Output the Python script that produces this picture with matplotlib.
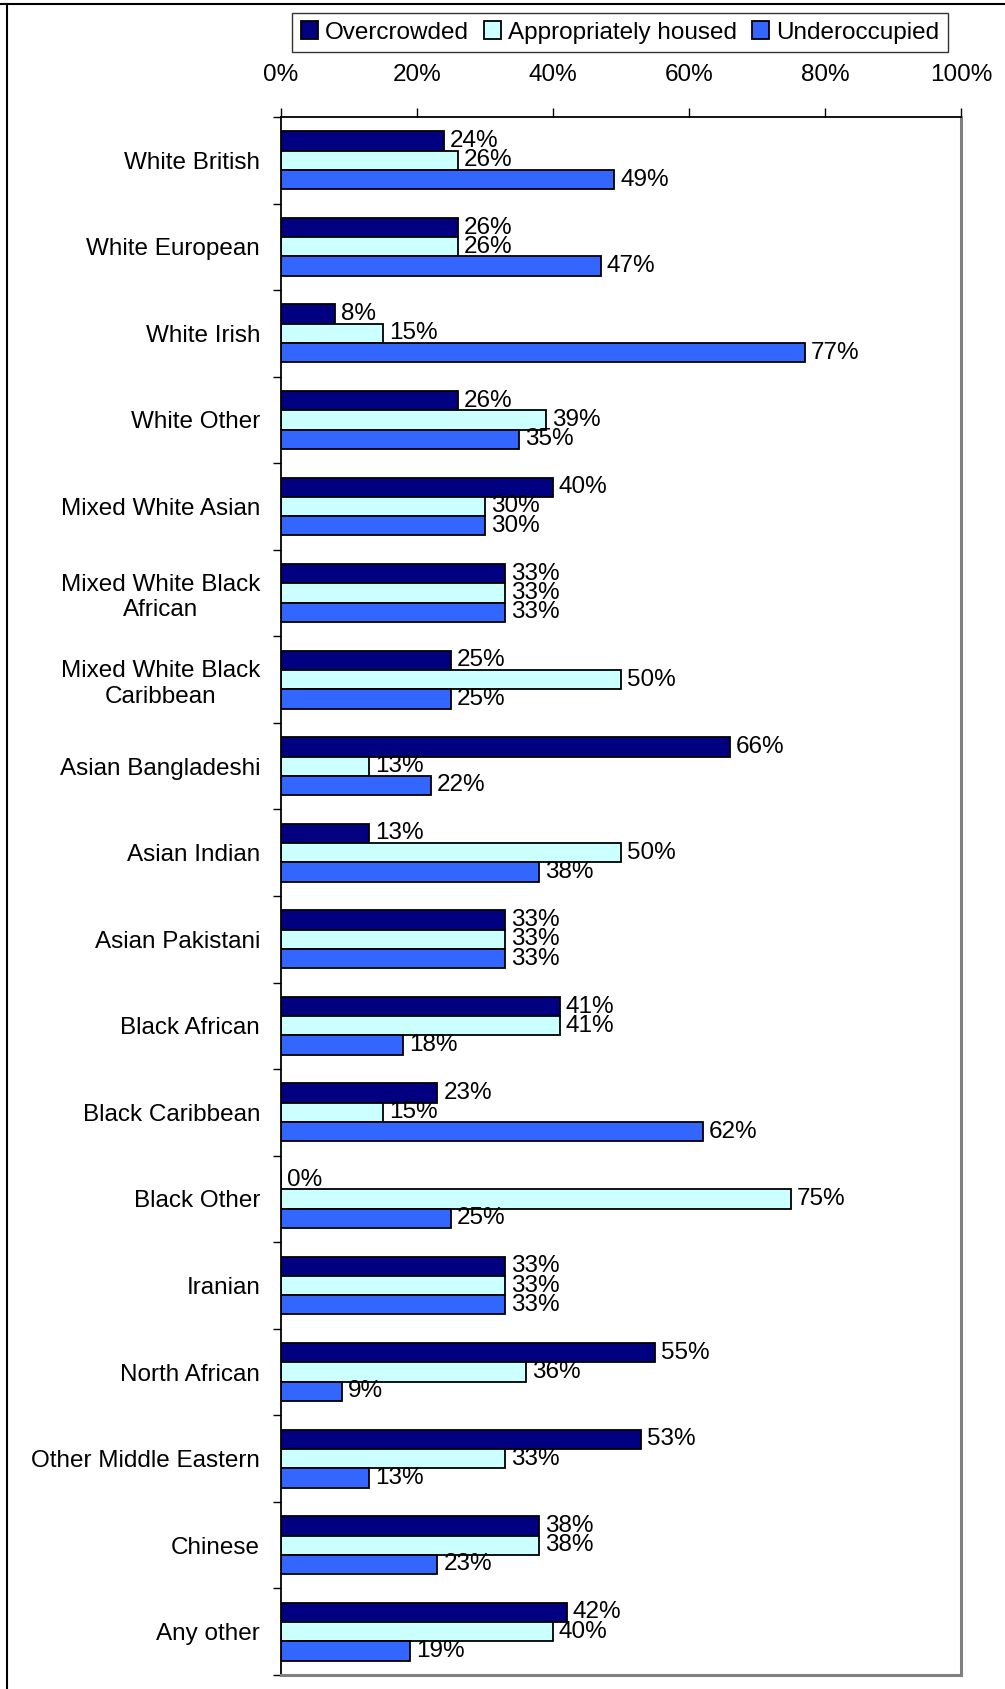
import numpy as np
import matplotlib
matplotlib.use('Agg')
import matplotlib.pyplot as plt
from matplotlib.lines import Line2D

plt.rcParams['font.family'] = ['Liberation Sans', 'DejaVu Sans']

# ── Data ─────────────────────────────────────────────────────────
groups = [
    'White British', 'White European', 'White Irish', 'White Other',
    'Mixed White Asian', 'Mixed White Black\nAfrican',
    'Mixed White Black\nCaribbean', 'Asian Bangladeshi', 'Asian Indian',
    'Asian Pakistani', 'Black African', 'Black Caribbean', 'Black Other',
    'Iranian', 'North African', 'Other Middle Eastern', 'Chinese',
    'Any other',
]
overcrowded = [24, 26, 8, 26, 40, 33, 25, 66, 13, 33, 41, 23, 0, 33, 55, 53, 38, 42]
appropriate = [26, 26, 15, 39, 30, 33, 50, 13, 50, 33, 41, 15, 75, 33, 36, 33, 38, 40]
underoccupied = [49, 47, 77, 35, 30, 33, 25, 22, 38, 33, 18, 62, 25, 33, 9, 13, 23, 19]

series_names = ['Overcrowded', 'Appropriately housed', 'Underoccupied']
series_colors = ['#000080', '#CCFFFF', '#3366FF']

FS = 17.5

fig = plt.figure(figsize=(10.05, 16.89), dpi=100)
ax = fig.add_axes([281 / 1005, 1 - 1675 / 1689, 680 / 1005, 1558 / 1689])

y = np.arange(len(groups))
h = 0.223
series = [overcrowded, appropriate, underoccupied]
for k, (vals, name, col) in enumerate(zip(series, series_names, series_colors)):
    frac = np.array(vals) / 100.0
    bars = ax.barh(y + (k - 1) * h, frac, height=h, color=col,
                   edgecolor='black', linewidth=1.3, label=name)
    for b, v in zip(bars, vals):
        ax.annotate(f'{v}%', (b.get_width(), b.get_y() + b.get_height() / 2),
                    xytext=(4.3, 0), textcoords='offset points',
                    ha='left', va='center', fontsize=FS)

ax.set_xlim(0, 1)
ax.set_ylim(len(groups) - 0.5, -0.5)

# percentage axis along the top
ax.xaxis.tick_top()
ax.set_xticks(np.arange(0, 1.01, 0.2))
ax.set_xticklabels([f'{int(round(t * 100))}%' for t in np.arange(0, 1.01, 0.2)])
ax.tick_params(axis='x', direction='out', length=6.5, width=1, pad=16,
               labelsize=FS)

# category labels centred on groups, tick marks between groups
ax.set_yticks(y)
ax.set_yticklabels(groups)
ax.set_yticks(np.arange(-0.5, len(groups), 1.0), minor=True)
ax.tick_params(axis='y', which='major', length=0, pad=15, labelsize=FS)
ax.tick_params(axis='y', which='minor', direction='out', length=6, width=1)
for lbl in ax.get_yticklabels():
    lbl.set_multialignment('center')

for side in ['top', 'left']:
    ax.spines[side].set_color('black')
    ax.spines[side].set_linewidth(1.3)
for side in ['right', 'bottom']:
    ax.spines[side].set_color('#808080')
    ax.spines[side].set_linewidth(2.2)

leg = fig.legend(loc='center', bbox_to_anchor=(620 / 1005, 1 - 32.5 / 1689),
                 ncol=3, fontsize=FS, frameon=True, fancybox=False,
                 edgecolor='black', handlelength=0.7, handleheight=0.7,
                 handletextpad=0.3, columnspacing=0.6, borderpad=0.35,
                 borderaxespad=0)
leg.get_frame().set_linewidth(1.0)

# outer frame edges
fig.add_artist(Line2D([0, 1], [1 - 4 / 1689] * 2, color='black', lw=1.5,
                      transform=fig.transFigure))
fig.add_artist(Line2D([7 / 1005] * 2, [0, 1 - 4 / 1689], color='black', lw=1.5,
                      transform=fig.transFigure))

fig.savefig('out.png', dpi=100)
